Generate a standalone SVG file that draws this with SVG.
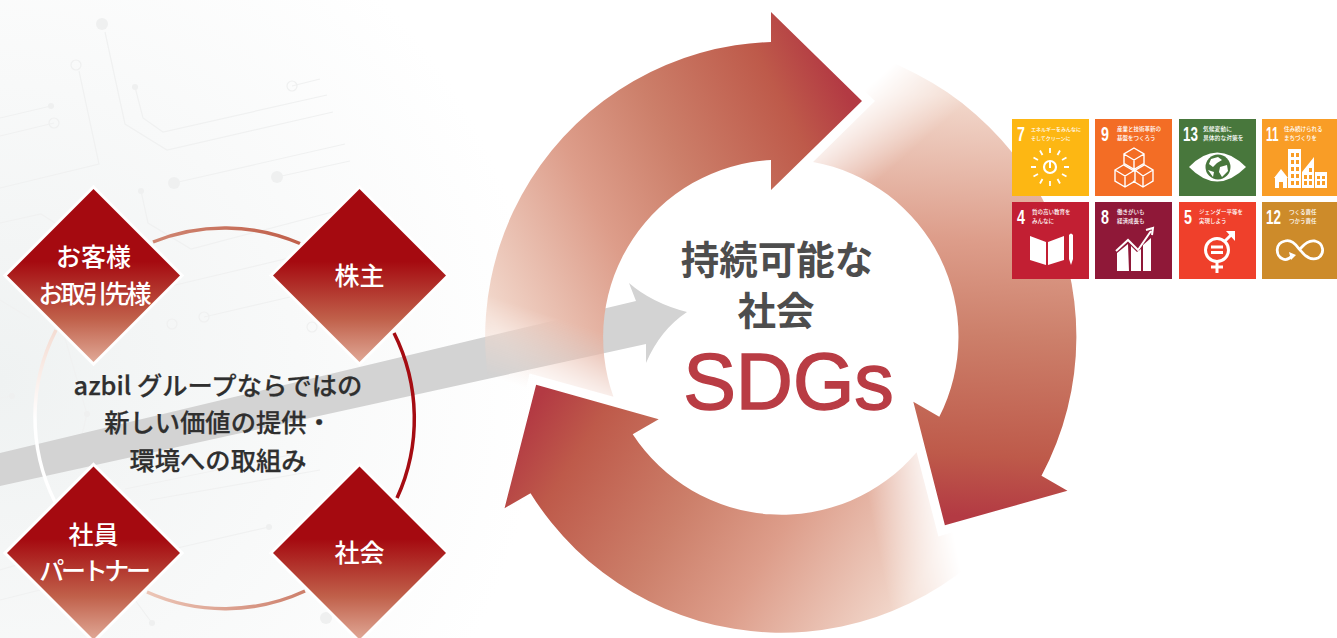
<svg xmlns="http://www.w3.org/2000/svg" width="1337" height="638" viewBox="0 0 1337 638">
<style>
.nt{font-family:"Noto Sans CJK JP",sans-serif;font-size:25px;font-weight:500;fill:#fff;text-anchor:middle}
.ct{font-family:"Noto Sans CJK JP",sans-serif;font-size:25.300px;font-weight:500;fill:#2f2f2f;stroke:#2f2f2f;stroke-width:.25px;text-anchor:middle}
.h{font-family:"Noto Sans CJK JP",sans-serif;font-size:38.500px;font-weight:700;fill:#4d4d4d;text-anchor:middle}
.d{fill:url(#dg);stroke:#fff;stroke-width:6;paint-order:stroke}
.num{font-family:"Liberation Sans",sans-serif;font-weight:700;font-size:21px;fill:#fff}
.lb{font-family:"Noto Sans CJK JP",sans-serif;font-size:5.500px;font-weight:500;fill:#fff}
.c{fill:none;stroke:#f0f1f1;stroke-width:1.200}
.cd{fill:#eff0f0}
.i{fill:none;stroke:#fff;stroke-width:1.400}
.f{fill:#fff}
.arc{fill:none;stroke-width:3.500}
</style>
<defs>
<radialGradient id="bg" gradientUnits="userSpaceOnUse" cx="0" cy="380" r="540"><stop offset="0" stop-color="#eff2f2"/><stop offset=".55" stop-color="#f8f9f9"/><stop offset="1" stop-color="#fff"/></radialGradient>
<linearGradient id="dg" x1="0" y1="0" x2="0" y2="1"><stop offset="0" stop-color="#a50a10"/><stop offset=".42" stop-color="#a50a10"/><stop offset=".75" stop-color="#c0604a"/><stop offset="1" stop-color="#e0a896"/></linearGradient>
<linearGradient id="rg" gradientUnits="userSpaceOnUse" x1="490" y1="420" x2="914" y2="204">
<stop offset=".1" stop-color="#f2d8cc"/><stop offset=".4" stop-color="#dd9d8a"/><stop offset=".6" stop-color="#cc7f6a"/><stop offset=".85" stop-color="#be5a4a"/><stop offset=".98" stop-color="#b33a43"/>
</linearGradient>
<linearGradient id="mg" gradientUnits="userSpaceOnUse" x1="518.500" y1="305" x2="494" y2="378"><stop offset="0" stop-color="#fff"/><stop offset="1" stop-color="#000"/></linearGradient>
<mask id="fade" maskUnits="userSpaceOnUse" x="440" y="0" width="460" height="500"><rect x="440" y="0" width="460" height="500" fill="url(#mg)"/></mask>
<linearGradient id="a1" gradientUnits="userSpaceOnUse" x1="153" y1="0" x2="300" y2="0"><stop offset="0" stop-color="#cf8672"/><stop offset="1" stop-color="#c05f4a"/></linearGradient>
<linearGradient id="a3" gradientUnits="userSpaceOnUse" x1="305" y1="0" x2="147" y2="0"><stop offset="0" stop-color="#cd7f6b"/><stop offset="1" stop-color="#ecc6b7"/></linearGradient>
<linearGradient id="a4" gradientUnits="userSpaceOnUse" x1="0" y1="330" x2="0" y2="420"><stop offset="0" stop-color="#f4dcd2"/><stop offset="1" stop-color="#fff"/></linearGradient>
<path id="arrow" d="M510,456 L529.600,373.600 L613.400,396.800 A177.500,177.500 0 0 1 771,160 L771,190 L862,101 L771,12 L771,42 A295.500,295.500 0 0 0 510,456 Z" fill="url(#rg)" mask="url(#fade)"/>
</defs>
<g id="background">
<rect x="0" y="0" width="560" height="638" fill="url(#bg)"/>
<path class="c" d="M105,32 L125,124 L167,150 L333,112 M79,71 L99,164 L0,188 M51,106 L0,118 M54,123 L0,136 M135,87 L143,118 L163,132 L327,95 M292,86 L320,79 M174,183 L345,144 M277,177 L350,161 M141,191 L148,223 L191,249 L340,210 M0,223 L41,214 L55,223 M167,287 L293,257 M204,317 L290,297 M0,398 L12,396 M0,300 L30,318 M64,335 L87,414 L78,451 M125,489 L290,455 M160,552 L269,527 M150,500 L320,470 M0,570 L50,555 M0,600 L40,590 M152,623 L135,600"/>
<g class="cd"><circle cx="102" cy="24" r="6"/><circle cx="51" cy="106" r="3"/><circle cx="135" cy="87" r="3"/><circle cx="174" cy="183" r="6"/><circle cx="277" cy="177" r="6"/><circle cx="141" cy="191" r="3"/><circle cx="12" cy="396" r="3"/><circle cx="87" cy="414" r="3"/><circle cx="78" cy="451" r="3"/><circle cx="269" cy="527" r="3"/><circle cx="152" cy="623" r="3"/><circle cx="326" cy="618" r="6"/></g>
<g fill="none" stroke="#eff0f0" stroke-width="1.200"><circle cx="76" cy="65" r="5"/><circle cx="54" cy="123" r="5"/><circle cx="292" cy="86" r="5"/><circle cx="204" cy="317" r="5"/><circle cx="172" cy="324" r="5"/><circle cx="312" cy="327" r="5"/></g>
</g>
<path id="grey-arrow" d="M0,453 L636,301 L629,283 Q652,303 687,312 Q660,330 646,363 L646,344 L0,486 Z" fill="#d3d3d3"/>
<g id="connectors">
<path class="arc" stroke="url(#a1)" d="M153,242 A190.500,190.500 0 0 1 300,243.500"/>
<path class="arc" stroke="#a50c12" d="M394,333 A190.500,190.500 0 0 1 397,498"/>
<path class="arc" stroke="url(#a3)" d="M305,591 A190.500,190.500 0 0 1 147,592"/>
<path class="arc" stroke="url(#a4)" d="M55,502 A190.500,190.500 0 0 1 56,330"/>
</g>
<g id="node-customer"><polygon class="d" points="93.500,189 180,275.500 93.500,362 7,275.500"/>
<text class="nt" x="93.500" y="266">お客様</text><text class="nt" x="93.500" y="303" letter-spacing="-3">お取引先様</text></g>
<g id="node-shareholder"><polygon class="d" points="359.500,189 446,275.500 359.500,362 273,275.500"/><text class="nt" x="359.500" y="285">株主</text></g>
<g id="node-employee"><polygon class="d" points="93.500,466.500 180,553 93.500,639.500 7,553"/>
<text class="nt" x="93.500" y="544">社員</text><text class="nt" x="93.500" y="580" letter-spacing="-3.300">パートナー</text></g>
<g id="node-society"><polygon class="d" points="359.500,466.500 446,553 359.500,639.500 273,553"/><text class="nt" x="359.500" y="562">社会</text></g>
<g id="center-label">
<text class="ct" x="218" y="395">azbil グループならではの</text>
<text class="ct" x="218" y="432">新しい価値の提供・</text>
<text class="ct" x="218" y="469.500">環境への取組み</text>
</g>
<g id="cycle">
<use href="#arrow"/>
<use href="#arrow" transform="rotate(120 781 337)"/>
<use href="#arrow" transform="rotate(240 781 337)"/>
</g>
<g id="cycle-label">
<text class="h" x="777" y="274">持続可能な</text>
<text class="h" x="776" y="325">社会</text>
<text x="788.500" y="409" text-anchor="middle" font-family="Liberation Sans, sans-serif" font-size="79" fill="#b93c44" stroke="#b93c44" stroke-width="1.500">SDGs</text>
</g>
<g id="goal-7"><rect x="1012" y="119" width="77" height="77" fill="#fdb713"/>
<text class="num" transform="translate(1017 141) scale(.68 1)">7</text>
<text class="lb" x="1031" y="131" style="font-size:5px">エネルギーをみんなに</text><text class="lb" x="1031" y="140" style="font-size:5px">そしてクリーンに</text>
<circle class="i" cx="1050" cy="167" r="6" style="stroke-width:2.200"/><path class="i" d="M1050,162 V168" style="stroke-width:2"/>
<path class="i" style="stroke-width:1.800" d="M1050,148 V153 M1050,181 V186 M1031,167 H1036 M1064,167 H1069 M1060,150.500 L1057.500,155 M1042.500,179 L1040,183.500 M1066.500,157.500 L1062,160 M1038,174 L1033.500,176.500 M1066.500,176.500 L1062,174 M1038,160 L1033.500,157.500 M1060,183.500 L1057.500,179 M1042.500,155 L1040,150.500"/></g>
<g id="goal-9"><rect x="1095" y="119" width="77" height="77" fill="#f36d25"/>
<text class="num" transform="translate(1101 141) scale(.68 1)">9</text>
<text class="lb" x="1117" y="131">産業と技術革新の</text><text class="lb" x="1117" y="140">基盤をつくろう</text>
<path class="i" d="M1134,148 L1144,154 V165 L1134,171 L1124,165 V154 Z M1124,154 L1134,160 L1144,154 M1134,160 V171 M1115,170 L1125,164 L1135,170 V181 L1125,187 L1115,181 Z M1115,170 L1125,176 L1135,170 M1125,176 V187 M1133,170 L1143,164 L1153,170 V181 L1143,187 L1133,181 M1135,170 L1143,176 L1153,170 M1143,176 V187"/></g>
<g id="goal-13"><rect x="1179" y="119" width="77" height="77" fill="#48773c"/>
<text class="num" transform="translate(1183 141) scale(.64 1)">13</text>
<text class="lb" x="1203" y="131" style="font-size:5.800px">気候変動に</text><text class="lb" x="1203" y="140" style="font-size:5.800px">具体的な対策を</text>
<path class="f" d="M1189,167 Q1217,138 1246,167 Q1217,196 1189,167 Z"/><circle cx="1218" cy="167" r="12.500" fill="#48773c"/>
<path class="f" d="M1211,159 L1218,157 L1222,160 L1217,163 L1213,167 L1209,164 Z M1220,167 L1227,165 L1228,171 L1222,177 L1219,172 Z M1208,170 L1214,172 L1213,177 Z"/></g>
<g id="goal-11"><rect x="1262" y="119" width="75" height="77" fill="#f99d26"/>
<text class="num" transform="translate(1266 141) scale(.56 1)">11</text>
<text class="lb" x="1284" y="131">住み続けられる</text><text class="lb" x="1284" y="140">まちづくりを</text>
<path class="f" fill-rule="evenodd" d="M1274,178 L1281,169 L1288,178 H1287 V188 H1283 V182 H1279 V188 H1275 V178 Z M1288,149 H1301 V188 H1288 Z M1291,153 V157 H1294 V153 Z M1296,153 V157 H1299 V153 Z M1291,160 V164 H1294 V160 Z M1296,160 V164 H1299 V160 Z M1291,167 V171 H1294 V167 Z M1296,167 V171 H1299 V167 Z M1291,174 V178 H1294 V174 Z M1296,174 V178 H1299 V174 Z M1291,181 V185 H1294 V181 Z M1296,181 V185 H1299 V181 Z M1302,172 L1314,157 V188 H1302 Z M1309,168 V172 H1312 V168 Z M1309,175 V179 H1312 V175 Z M1304,175 V179 H1307 V175 Z M1304,181 V185 H1307 V181 Z M1309,181 V185 H1312 V181 Z M1315,172 H1327 V188 H1315 Z M1317,176 V179 H1320 V176 Z M1322,176 V179 H1325 V176 Z M1317,181 V185 H1320 V181 Z M1322,181 V185 H1325 V181 Z"/></g>
<g id="goal-4"><rect x="1012" y="202" width="77" height="77" fill="#c21f33"/>
<text class="num" transform="translate(1017 224) scale(.68 1)">4</text>
<text class="lb" x="1032" y="214">質の高い教育を</text><text class="lb" x="1032" y="223">みんなに</text>
<path class="f" d="M1030,236 L1046,242 V265 L1030,260 Z M1064,236 L1048,242 V265 L1064,260 Z"/>
<path class="f" d="M1069,235 Q1071,232 1073,235 V259 L1071,265 L1069,259 Z"/></g>
<g id="goal-8"><rect x="1095" y="202" width="77" height="77" fill="#8f1838"/>
<text class="num" transform="translate(1101 224) scale(.68 1)">8</text>
<text class="lb" x="1117" y="214">働きがいも</text><text class="lb" x="1117" y="223">経済成長も</text>
<path class="f" d="M1117,271 V253 L1128,244 L1129,271 Z M1131,271 V246 L1137,252 L1141,249 V271 Z M1143,271 V245 L1151,238 V271 Z"/>
<path d="M1116,251 L1128,240 L1138,250 L1151,231 M1146,230 L1153,228 L1152,235" fill="none" stroke="#fff" stroke-width="2"/></g>
<g id="goal-5"><rect x="1179" y="202" width="77" height="77" fill="#ef402b"/>
<text class="num" transform="translate(1184 224) scale(.68 1)">5</text>
<text class="lb" x="1199" y="214">ジェンダー平等を</text><text class="lb" x="1199" y="223">実現しよう</text>
<circle cx="1217" cy="250" r="11.500" fill="none" stroke="#fff" stroke-width="3"/>
<path d="M1225,241 L1233,233 M1217,261 V273 M1211,267 H1223" fill="none" stroke="#fff" stroke-width="3"/><path class="f" d="M1226,231 H1235 V241 Z"/>
<path class="f" d="M1211,245.500 H1223 V248.500 H1211 Z M1211,251 H1223 V254 H1211 Z"/></g>
<g id="goal-12"><rect x="1262" y="202" width="75" height="77" fill="#cd8b2a"/>
<text class="num" transform="translate(1266 224) scale(.64 1)">12</text>
<text class="lb" x="1289" y="214">つくる責任</text><text class="lb" x="1289" y="223">つかう責任</text>
<path d="M1292,256 Q1287,261 1283,259 C1275,256 1275,243 1285,241 C1293,239 1297,247 1301,251 C1305,256 1311,261 1318,258 C1325,254 1324,243 1315,241 C1308,240 1304,245 1300,249" fill="none" stroke="#fff" stroke-width="2.800"/>
<path class="f" d="M1289,252 L1296,255 L1291,260 Z"/></g>
</svg>
